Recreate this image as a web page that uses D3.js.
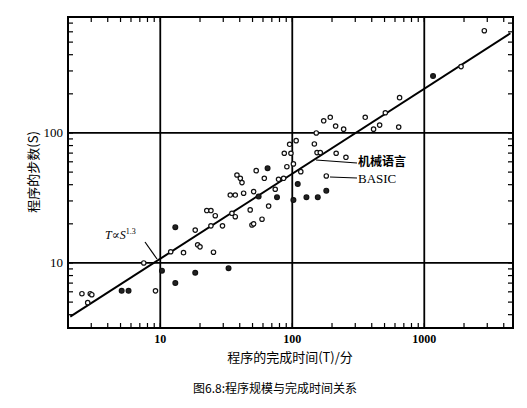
<!DOCTYPE html>
<html><head><meta charset="utf-8">
<script src="https://cdn.jsdelivr.net/npm/d3@7"></script>
<style>body{margin:0;background:#fff}</style></head>
<body><svg id="c" width="527" height="408"></svg>
<script>
const xTicks=[10,100,1000];
const yTicks=[10,100];
const timeT=[2.55,2.95,3.03,2.82,5.1,5.75,9.2,7.5,10.3,13,13,12,15,18.4,18.4,19.2,20,22.5,24.2,25.3,26.1,24.2,29.6,32.9,33.9,37,38.1,40.4,41.6,42.8,34.9,37,48,49.5,51,51,53.3,55.6,59,61.4,65,66.2,74.3,76.6,78.7,86,87,91,95.5,97.7,102,102,107,110,116,128,147,152,154,163,156,173,181,181,194,213,215,245,255,357,413,459,507,650,640,1165,1900,2850];
const stepsS=[5.8,5.8,5.7,4.95,6.1,6.1,6.1,10,8.7,7.0,18.8,12.2,12,17.9,8.4,13.8,13.3,25.3,25.3,12.1,23.1,19.3,19.3,9.1,33.3,33.3,47.5,44.8,41.5,34.4,24.1,22.7,25.6,19.6,20,35.4,51.3,32.4,21.7,44.8,53.5,27.4,36.9,32,44,44.8,69.8,55,81.8,69.8,57.8,30.5,87.3,40.5,50.4,32,82.3,100,70.6,70.6,32,124,46.7,36,132,113,69.8,107,65,132,107,115,143,187,111,274,324,612];
const filled=[4,5,8,9,10,14,23,37,40,43,51,53,55,60,63,75];
const fitT=[2.08,4490], fitS=[3.86,585];

const svg=d3.select("#c");
const L=68,R=513,T=17,B=328;
const x=d3.scaleLog().domain([2.0,4700]).range([L,R]);
const y=d3.scaleLog().domain([3.16,780]).range([B,T]);
const g=svg.append("g");
// minor ticks
const xm=x.ticks().filter(v=>v>=2&&v<=4700);
const ym=y.ticks().filter(v=>v>=3.2&&v<=780);
xm.forEach(v=>{g.append("line").attr("x1",x(v)).attr("x2",x(v)).attr("y1",B).attr("y2",B-5).attr("stroke","#000").attr("stroke-width",1.2);
 g.append("line").attr("x1",x(v)).attr("x2",x(v)).attr("y1",T).attr("y2",T+5).attr("stroke","#000").attr("stroke-width",1.2);});
ym.forEach(v=>{g.append("line").attr("y1",y(v)).attr("y2",y(v)).attr("x1",L).attr("x2",L+5).attr("stroke","#000").attr("stroke-width",1.2);
 g.append("line").attr("y1",y(v)).attr("y2",y(v)).attr("x1",R).attr("x2",R-5).attr("stroke","#000").attr("stroke-width",1.2);});
// grid
xTicks.forEach(v=>g.append("line").attr("x1",x(v)).attr("x2",x(v)).attr("y1",T).attr("y2",B).attr("stroke","#000").attr("stroke-width",1.8));
yTicks.forEach(v=>g.append("line").attr("y1",y(v)).attr("y2",y(v)).attr("x1",L).attr("x2",R).attr("stroke","#000").attr("stroke-width",1.8));
g.append("rect").attr("x",L).attr("y",T).attr("width",R-L).attr("height",B-T).attr("fill","none").attr("stroke","#000").attr("stroke-width",2);
// fit line
g.append("line").attr("x1",x(fitT[0])).attr("y1",y(fitS[0])).attr("x2",x(fitT[1])).attr("y2",y(fitS[1])).attr("stroke","#000").attr("stroke-width",2);
// points
g.selectAll("circle.p").data(timeT).enter().append("circle")
 .attr("cx",d=>x(d)).attr("cy",(d,i)=>y(stepsS[i])).attr("r",(d,i)=>filled.includes(i)?2.4:2.2)
 .attr("fill",(d,i)=>filled.includes(i)?"#222":"#fff").attr("stroke","#111").attr("stroke-width",1.2);
// tick labels
const serif="'Liberation Serif','DejaVu Serif',serif";
xTicks.forEach(v=>svg.append("text").attr("x",x(v)).attr("y",343).attr("text-anchor","middle").attr("font-family",serif).attr("font-weight","bold").attr("font-size",12).text(v));
yTicks.forEach(v=>svg.append("text").attr("x",L-5).attr("y",y(v)+4).attr("text-anchor","end").attr("font-family",serif).attr("font-size",13).text(v));
// annotations
svg.append("text").attr("x",105).attr("y",239).attr("font-family",serif).attr("font-style","italic").attr("font-size",12).html("T∝S<tspan dy='-5' font-size='8' font-style='normal'>1.3</tspan>");
svg.append("line").attr("x1",145).attr("y1",242).attr("x2",157).attr("y2",259).attr("stroke","#000").attr("stroke-width",1.2);
svg.append("line").attr("x1",316).attr("y1",160).attr("x2",357).attr("y2",163).attr("stroke","#000").attr("stroke-width",1.2);
svg.append("line").attr("x1",330).attr("y1",177).attr("x2",357).attr("y2",178).attr("stroke","#000").attr("stroke-width",1.2);
svg.append("text").attr("x",358).attr("y",166).attr("font-family","'Noto Sans CJK SC'").attr("font-weight","bold").attr("font-size",12).text("机械语言");
svg.append("text").attr("x",358).attr("y",183).attr("font-family",serif).attr("font-size",13).text("BASIC");
// axis titles
svg.append("text").attr("x",290).attr("y",362).attr("text-anchor","middle").attr("font-family","'Noto Sans CJK SC'").attr("font-size",13).text("程序的完成时间(T)/分");
svg.append("text").attr("transform","translate(38,172) rotate(-90)").attr("text-anchor","middle").attr("font-family","'Noto Sans CJK SC'").attr("font-size",13).text("程序的步数(S)");
svg.append("text").attr("x",275).attr("y",393).attr("text-anchor","middle").attr("font-family","'Noto Sans CJK SC'").attr("font-size",12).text("图6.8:程序规模与完成时间关系");
</script></body></html>
